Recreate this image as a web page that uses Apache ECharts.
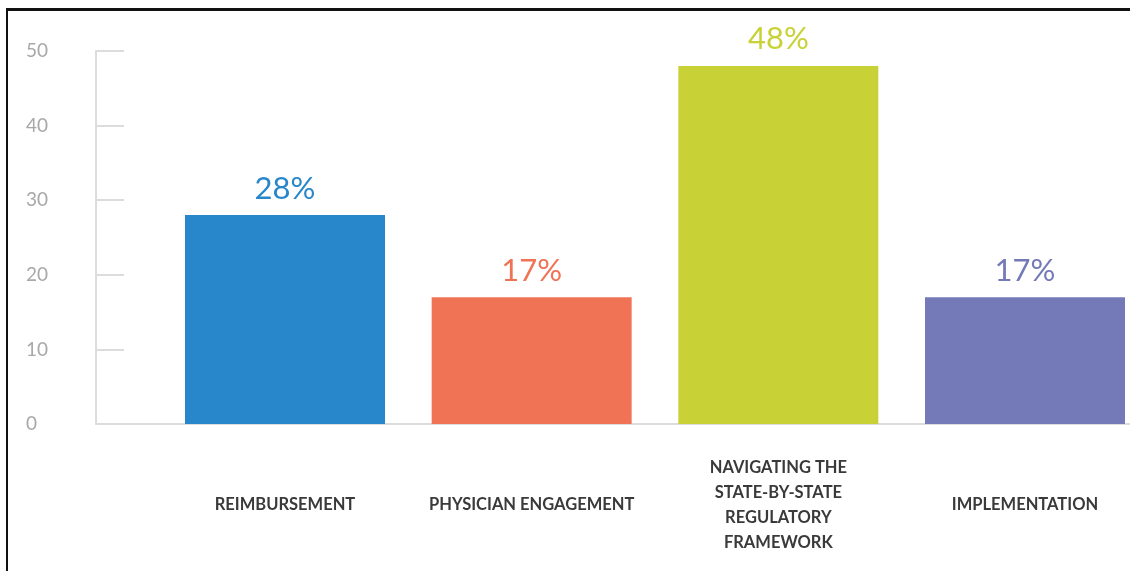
<!DOCTYPE html>
<html>
<head>
<meta charset="utf-8">
<script src="https://cdn.jsdelivr.net/npm/echarts@6/dist/echarts.min.js"></script>
<style>
  html, body { margin: 0; padding: 0; background: #fff; }
  #chart { width: 1130px; height: 571px; }
  #frame {
    position: absolute; left: 6px; top: 8px; right: 0; bottom: 0;
    border-left: 2px solid #111; border-top: 3px solid #111;
    pointer-events: none;
  }
</style>
</head>
<body>
<div id="chart"></div>
<div id="frame"></div>
<script>
// Survey responses: share of respondents naming each challenge
const categories = [
  'REIMBURSEMENT',
  'PHYSICIAN ENGAGEMENT',
  'NAVIGATING THE\nSTATE-BY-STATE\nREGULATORY\nFRAMEWORK',
  'IMPLEMENTATION'
];
const values = [28, 17, 48, 17];
const barColors = ['#2887CA', '#F07356', '#C8D236', '#7479B8'];
const yTicks = [0, 10, 20, 30, 40, 50];

const chart = echarts.init(document.getElementById('chart'), null, { renderer: 'canvas' });

const axisGray = '#dcdcdc';

chart.setOption({
  backgroundColor: '#ffffff',
  animation: false,
  grid: [
    // axis frame (y axis + baseline)
    { left: 96, right: 0, top: 51, bottom: 147 },
    // bar area: categories sit on the ticks of this grid
    { left: 285, right: 105, top: 51, bottom: 147 }
  ],
  xAxis: [
    {
      gridIndex: 0, type: 'category', data: [''],
      axisLine: { show: true, lineStyle: { color: axisGray, width: 2 } },
      axisTick: { show: false }, axisLabel: { show: false }, splitLine: { show: false }
    },
    {
      gridIndex: 1, type: 'category', data: categories, boundaryGap: false,
      axisLine: { show: false }, axisTick: { show: false },
      axisLabel: {
        interval: 0,
        margin: 81,
        verticalAlign: 'middle',
        align: 'center',
        lineHeight: 25,
        fontFamily: 'Lato',
        fontWeight: 'bold',
        fontSize: 16.5,
        color: '#3a3a3a'
      }
    }
  ],
  yAxis: [
    {
      gridIndex: 0, type: 'value', min: yTicks[0], max: yTicks[yTicks.length - 1], interval: 10,
      axisLine: { show: true, lineStyle: { color: axisGray, width: 2 } },
      axisTick: { show: true, inside: true, length: 28, lineStyle: { color: axisGray, width: 2 } },
      splitLine: { show: false },
      axisLabel: {
        margin: 70, align: 'left',
        padding: [5, 0, 0, 0],
        fontFamily: 'Lato', fontSize: 19, color: '#a8a8a8'
      }
    },
    {
      gridIndex: 1, type: 'value', min: yTicks[0], max: yTicks[yTicks.length - 1], interval: 10,
      show: false
    }
  ],
  series: [{
    type: 'bar',
    xAxisIndex: 1,
    yAxisIndex: 1,
    barWidth: 200,
    data: values.map((v, i) => ({
      value: v,
      itemStyle: { color: barColors[i] },
      label: { color: barColors[i] }
    })),
    label: {
      show: true,
      position: 'top',
      distance: 11,
      formatter: p => p.value + '%',
      fontFamily: 'Lato',
      fontSize: 31,
      fontWeight: 'normal'
    }
  }]
});
</script>
</body>
</html>
